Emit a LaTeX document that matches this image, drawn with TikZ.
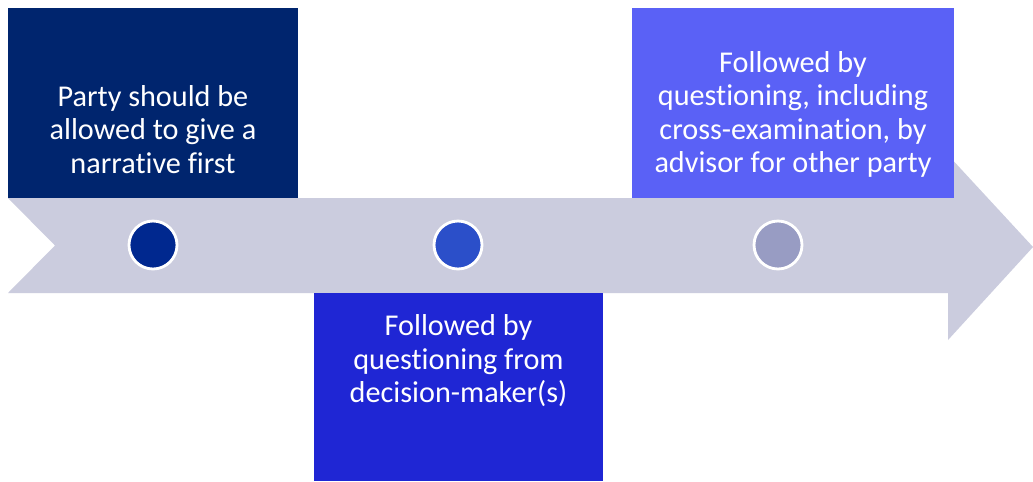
\documentclass[tikz,border=0pt]{standalone}
\usepackage{fontspec}
\setmainfont{Carlito}[Ligatures=NoCommon]
\definecolor{arrowgrey}{HTML}{CBCCDE}
\definecolor{navy}{HTML}{00256E}
\definecolor{royal}{HTML}{1F26D4}
\definecolor{violet}{HTML}{5A61F6}
\definecolor{dotone}{HTML}{00288F}
\definecolor{dottwo}{HTML}{2B4FC9}
\definecolor{dotthree}{HTML}{989CC3}
\tikzset{
  stagebox/.style={rectangle,inner sep=0pt,minimum width=5.8cm,minimum height=3.8cm},
  stagetext/.style={text=white,align=center,inner sep=0pt,
    font=\fontsize{17.2}{19.1}\selectfont},
  dot/.style={circle,draw=white,line width=1.6pt,minimum size=0.96cm,inner sep=0pt}
}
\begin{document}
\begin{tikzpicture}[x=0.02cm,y=-0.02cm]
    \useasboundingbox[fill=white] (0,0) rectangle (1033,481);

    % timeline arrow
    \fill[arrowgrey] (8,198) -- (948,198) -- (948,155) -- (1033,247)
        -- (948,340) -- (948,293) -- (8,293) -- (55,245.5) -- cycle;

    \node[stagebox,fill=navy] (narrative) at (153,103) {};
    \node[stagebox,fill=royal,minimum height=3.76cm] (decision) at (458.5,387) {};
    \node[stagebox,fill=violet,minimum width=6.44cm] (advisor) at (793,103) {};

    \node[stagetext,anchor=south] (narrativetext) at (153,174)
        {Party should be\\allowed to give a\\narrative first};
    \node[stagetext,anchor=north] (decisiontext) at (458.5,314.5)
        {Followed by\\questioning from\\decision-maker(s)};
    \node[stagetext,anchor=south] (advisortext) at (793,178)
        {Followed by\\questioning, including\\cross-examination, by\\advisor for other party};

    \node[dot,fill=dotone] (first) at (153,245) {};
    \node[dot,fill=dottwo] (second) at (458,245) {};
    \node[dot,fill=dotthree] (third) at (778,245) {};

\end{tikzpicture}
\end{document}
